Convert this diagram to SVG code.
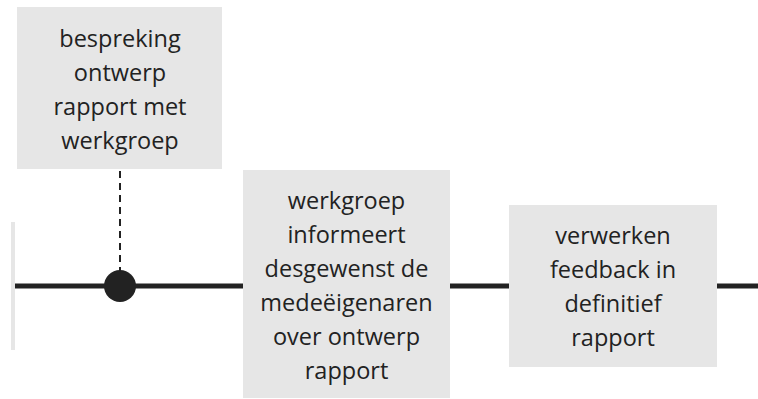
<svg xmlns="http://www.w3.org/2000/svg" width="758" height="399" viewBox="0 0 758 399">
<style>
.box{fill:#e6e6e6}
.t{font-family:"Open Sans","Noto Sans",sans-serif;font-size:23.5px;fill:#222;text-anchor:middle}
.ln{stroke:#222;stroke-width:5;fill:none}
</style>
<rect width="758" height="399" fill="#fff"/>
<g id="connectors">
<rect x="11" y="222" width="4" height="128" fill="#e6e6e6"/>
<line class="ln" x1="15" y1="286" x2="758" y2="286"/>
<line x1="120" y1="171" x2="120" y2="272" stroke="#222" stroke-width="2" stroke-dasharray="7,5"/>
</g>
<g id="milestone">
<circle cx="120" cy="286" r="16" fill="#222"/>
</g>
<g id="node1">
<rect class="box" x="17" y="7" width="205" height="162"/>
<text class="t" x="120" y="47">bespreking</text>
<text class="t" x="120" y="81">ontwerp</text>
<text class="t" x="120" y="115">rapport met</text>
<text class="t" x="120" y="149">werkgroep</text>
</g>
<g id="node2">
<rect class="box" x="243" y="170" width="207" height="228"/>
<text class="t" x="346.500" y="209">werkgroep</text>
<text class="t" x="346.500" y="243">informeert</text>
<text class="t" x="346.500" y="277">desgewenst de</text>
<text class="t" x="346.500" y="311">medeëigenaren</text>
<text class="t" x="346.500" y="345">over ontwerp</text>
<text class="t" x="346.500" y="379">rapport</text>
</g>
<g id="node3">
<rect class="box" x="509" y="205" width="208" height="162"/>
<text class="t" x="613" y="244">verwerken</text>
<text class="t" x="613" y="278">feedback in</text>
<text class="t" x="613" y="312">definitief</text>
<text class="t" x="613" y="346">rapport</text>
</g>
</svg>
